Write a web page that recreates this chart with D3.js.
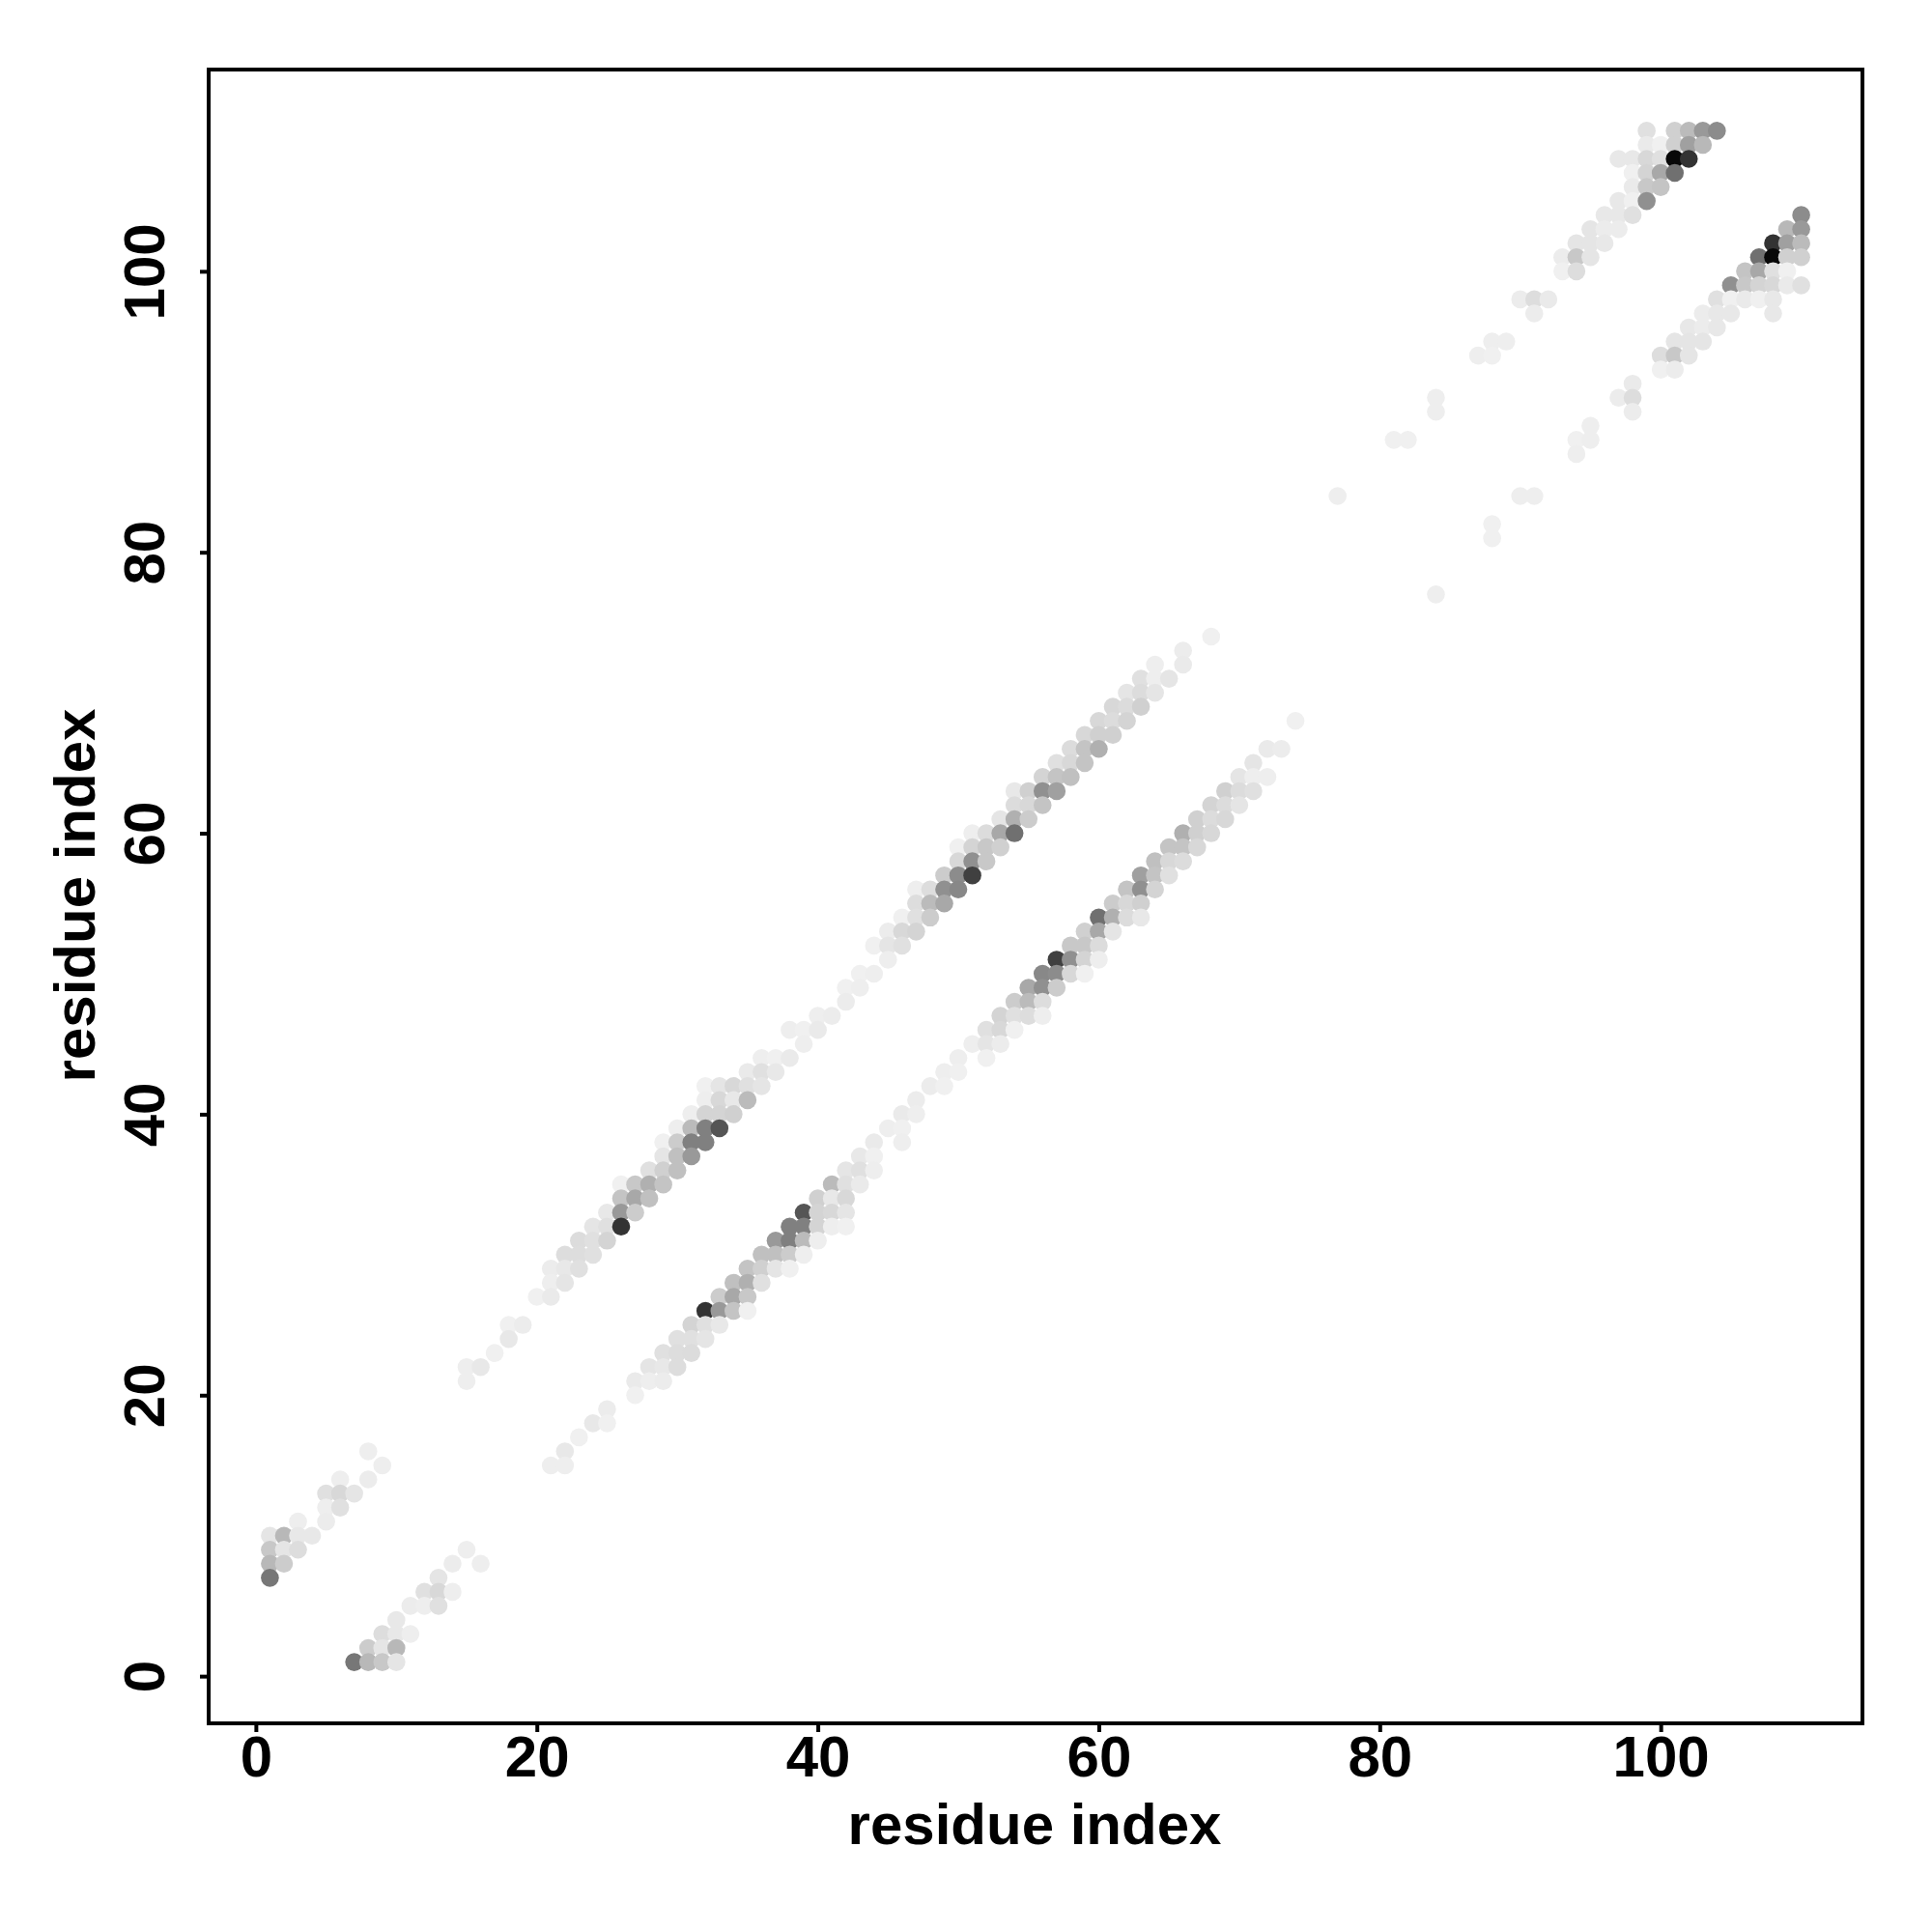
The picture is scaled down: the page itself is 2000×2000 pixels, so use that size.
<!DOCTYPE html>
<html>
<head>
<meta charset="utf-8">
<script src="https://cdnjs.cloudflare.com/ajax/libs/d3/7.8.5/d3.min.js"></script>
<style>
html,body{margin:0;padding:0;background:#fff;}
svg{display:block;}
text{font-family:"Liberation Sans",Arial,sans-serif;font-weight:bold;fill:#000;}
</style>
</head>
<body>
<svg id="chart" width="2000" height="2000"></svg>
<script>
// Contacts are [residue i, residue j (> i), grey level]; the map is symmetric.
const contactsA = [
[1,7,0x77],[1,8,0xb8],[1,9,0xc8],[1,10,0xe5],[2,8,0xcc],[2,9,0xe5],[2,10,0xb8],[3,9,0xdd],[3,10,0xe8],[3,11,0xee],
[4,10,0xe8],[5,11,0xec],[5,12,0xee],[5,13,0xe0],[6,12,0xe0],[6,13,0xd8],[6,14,0xee],[7,13,0xe5],[8,14,0xec],[8,16,0xee],[9,15,0xee],
[15,21,0xee],[15,22,0xee],[16,22,0xe8],[17,23,0xf0],[18,24,0xe8],[18,25,0xf0],[19,25,0xec],[20,27,0xf0]
];
const contactsB = [
[21,27,0xea],[21,28,0xee],[21,29,0xec],[22,28,0xe5],[22,29,0xe8],[22,30,0xdd],[23,29,0xe0],[23,30,0xdd],[23,31,0xdc],
[24,30,0xe0],[24,31,0xe0],[24,32,0xe5],[25,31,0xd4],[25,32,0xe0],[25,33,0xe8],[26,32,0x33],[26,33,0x99],[26,34,0xc4],[26,35,0xf0],
[27,33,0xcc],[27,34,0xa8],[27,35,0xc8],[28,34,0xc0],[28,35,0xb0],[28,36,0xe0],[29,35,0xc4],[29,36,0xd0],[29,37,0xe5],[29,38,0xf0],
[30,36,0xc0],[30,37,0xc0],[30,38,0xcc],[30,39,0xee],[31,37,0x99],[31,38,0x80],[31,39,0xbb],[31,40,0xee],
[32,38,0x80],[32,39,0x80],[32,40,0xd4],[32,41,0xee],[32,42,0xf0],[33,39,0x55],[33,40,0xd4],[33,41,0xd8],[33,42,0xe5],
[34,40,0xd0],[34,41,0xe8],[34,42,0xd8],[35,41,0xbb],[35,42,0xe0],[35,43,0xea]
];
const contactsC = [
[36,42,0xe5],[36,43,0xe0],[36,44,0xee],[37,43,0xe8],[37,44,0xf0],[38,44,0xea],[38,46,0xee],[39,45,0xee],[39,46,0xf0],
[40,46,0xea],[40,47,0xee],[41,47,0xec],[42,48,0xec],[42,49,0xf0],[43,49,0xee],[43,50,0xf0],[44,50,0xee],[44,52,0xf0],
[45,51,0xee],[45,52,0xe5],[45,53,0xec],[46,52,0xe0],[46,53,0xd8],[46,54,0xf0],[47,53,0xd4],[47,54,0xe0],[47,55,0xdd],[47,56,0xee],
[48,54,0xcc],[48,55,0xbb],[48,56,0xdd],[49,55,0xa8],[49,56,0x90],[49,57,0xcc],[50,56,0x88],[50,57,0x8c],[50,58,0xd8],[50,59,0xf0]
];
const contactsD = [
[51,57,0x40],[51,58,0x90],[51,59,0xd4],[51,60,0xee],[52,58,0xc8],[52,59,0xc8],[52,60,0xdc],[53,59,0xd0],[53,60,0xa8],[53,61,0xe5],
[54,60,0x70],[54,61,0xb0],[54,62,0xdc],[54,63,0xe8],[55,61,0xcc],[55,62,0xd8],[55,63,0xd0],[56,62,0xc4],[56,63,0x90],[56,64,0xd4],
[57,63,0xa0],[57,64,0xc4],[57,65,0xe0],[58,64,0xc0],[58,65,0xd8],[58,66,0xdc],[59,65,0xc4],[59,66,0xc4],[59,67,0xd8],
[60,66,0xb0],[60,67,0xd0],[60,68,0xd8],[61,67,0xd0],[61,68,0xdc],[61,69,0xd8],[62,68,0xd4],[62,69,0xdc],[62,70,0xe5],
[63,69,0xd0],[63,70,0xdc],[63,71,0xe0],[64,70,0xe5],[64,71,0xee],[64,72,0xee],[65,71,0xe5],[66,72,0xea],[66,73,0xec],[68,74,0xf0]
];
const contactsE = [
[77,84,0xee],[81,88,0xf0],[82,88,0xf0],[84,90,0xee],[84,91,0xee],[87,94,0xee],[88,94,0xf0],[88,95,0xee],[89,95,0xee],
[90,98,0xec],[91,97,0xec],[91,98,0xdd],[92,98,0xea],[93,100,0xf0],[93,101,0xec],[94,100,0xdd],[94,101,0xc8],[94,102,0xe5],
[95,101,0xe5],[95,102,0xe5],[95,103,0xe5],[96,102,0xe8],[96,103,0xec],[96,104,0xe8],[97,103,0xec],[97,104,0xe8],[97,105,0xe8],[97,108,0xe8]
];
const contactsF = [
[98,104,0xe0],[98,105,0xf0],[98,106,0xea],[98,107,0xf0],[98,108,0xe8],
[99,105,0x90],[99,106,0xc8],[99,107,0xd4],[99,108,0xd8],[99,109,0xea],[99,110,0xe0],
[100,106,0xc4],[100,107,0xa8],[100,108,0xe0],[100,109,0xf0],
[101,107,0x70],[101,108,0x08],[101,109,0xd0],[101,110,0xd0],
[102,108,0x33],[102,109,0xa0],[102,110,0xbb],[103,109,0xb8],[103,110,0x99],[104,110,0x8c]
];
const tickValues = [0,20,40,60,80,100];
const xTitle = "residue index";
const yTitle = "residue index";

const plotLeft=216,plotRight=1928,plotTop=72,plotBottom=1784;
const domain=[-3.36,114.36];
const x=d3.scaleLinear().domain(domain).range([plotLeft,plotRight]);
const y=d3.scaleLinear().domain(domain).range([plotBottom,plotTop]);
const grey=d3.scaleLinear().domain([0,255]).range(["#000","#fff"]);

const upper=[].concat(contactsA,contactsB,contactsC,contactsD,contactsE,contactsF);
const points=upper.concat(upper.map(d=>[d[1],d[0],d[2]]))
  .sort((a,b)=>d3.ascending(a[0],b[0])||d3.descending(a[1],b[1]));

const svg=d3.select("#chart");
svg.append("g").selectAll("circle").data(points).join("circle")
  .attr("cx",d=>x(d[0])).attr("cy",d=>y(d[1])).attr("r",9.3)
  .attr("fill",d=>grey(d[2]));

const fontSize=60;
const gx=svg.append("g").attr("transform",`translate(0,${plotBottom})`)
  .call(d3.axisBottom(x).tickValues(tickValues).tickSize(9).tickSizeOuter(0));
gx.select(".domain").remove();
gx.selectAll("line").attr("stroke","#000").attr("stroke-width",4);
gx.selectAll("text").style("font-size",fontSize+"px").attr("fill","#000").attr("y",55).attr("dy",null);

const gy=svg.append("g").attr("transform",`translate(${plotLeft},0)`)
  .call(d3.axisLeft(y).tickValues(tickValues).tickSize(9).tickSizeOuter(0));
gy.select(".domain").remove();
gy.selectAll("line").attr("stroke","#000").attr("stroke-width",4);
gy.selectAll("text").style("font-size",fontSize+"px").attr("fill","#000")
  .attr("x",null).attr("dy",null)
  .attr("text-anchor","middle")
  .attr("transform","translate(-46,0) rotate(-90)");

svg.append("rect").attr("x",plotLeft).attr("y",plotTop).attr("width",plotRight-plotLeft).attr("height",plotBottom-plotTop)
  .attr("fill","none").attr("stroke","#000").attr("stroke-width",4);

svg.append("text").attr("x",1071).attr("y",1909).attr("text-anchor","middle")
  .style("font-size","60px").text(xTitle);
svg.append("text").attr("transform","translate(98,927) rotate(-90)").attr("text-anchor","middle")
  .style("font-size","60px").text(yTitle);
</script>
</body>
</html>
